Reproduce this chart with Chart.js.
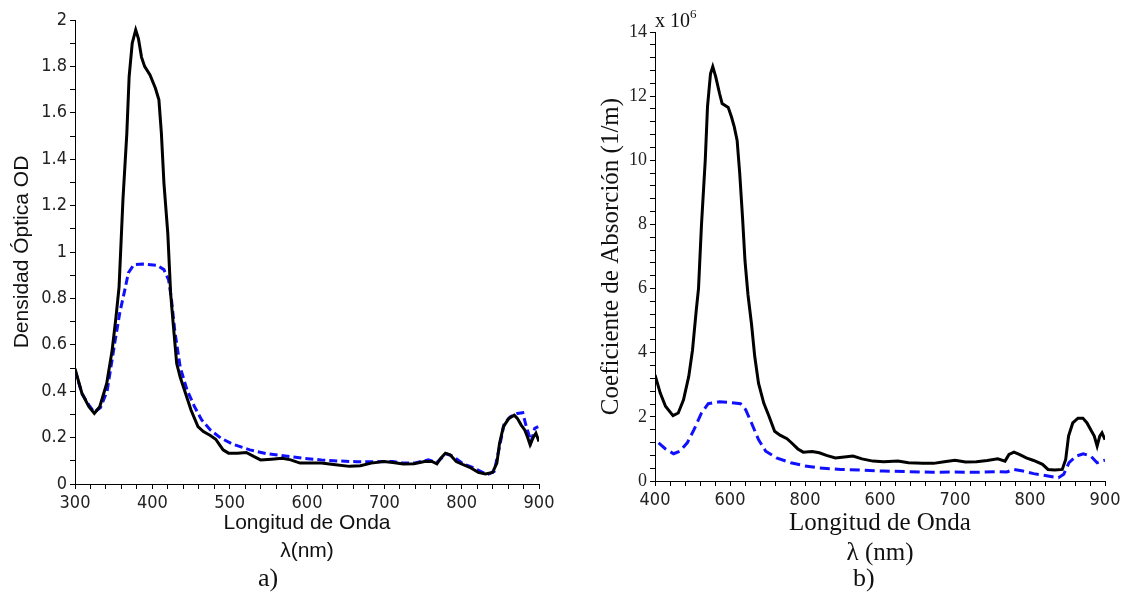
<!DOCTYPE html>
<html>
<head>
<meta charset="utf-8">
<script src="https://cdn.jsdelivr.net/npm/chart.js@4.4.1/dist/chart.umd.min.js"></script>
<style>
  body { margin: 0; background: #fff; }
  #wrap { position: relative; width: 1129px; height: 594px; overflow: hidden; }
  canvas { position: absolute; top: 0; }
  .lbl { position: absolute; font-family: 'Liberation Serif', serif; color: #111; line-height: 1; }
</style>
</head>
<body>
<div id="wrap">
  <canvas id="odChart" width="560" height="594" style="left:0"></canvas>
  <canvas id="absChart" width="564" height="594" style="left:565px"></canvas>
  <div class="lbl" style="left:258px; top:565px; font-size:26px;">a)</div>
  <div class="lbl" style="left:853px; top:565px; font-size:26px;">b)</div>
  <div class="lbl" style="left:655px; top:10px; font-size:20px;">x 10<span style="font-size:13px; position:relative; top:-9px;">6</span></div>
</div>
<script>
// panel a) optical density
const odBlackX = [300, 309, 318, 325, 332, 341, 348, 353, 357, 362, 367, 370, 374, 378.5, 382, 386, 390, 397, 404, 408.5, 411.7, 415, 420, 423.7, 427, 431.5, 436, 443, 450, 459, 466, 475, 482, 487, 491.5, 498.5, 510, 521.5, 531, 540, 554, 568, 579, 591, 604.6, 618.5, 637, 655, 669, 683, 699, 711, 724.6, 738.5, 752, 761.5, 768, 773, 779, 785, 793, 802, 812, 821.5, 830.7, 840, 845.5, 849, 854, 861, 868, 872, 877, 881.5, 885, 888.5, 893, 896, 900];
const odBlackY = [0.497, 0.39, 0.333, 0.304, 0.333, 0.433, 0.576, 0.719, 0.85, 1.225, 1.51, 1.756, 1.9, 1.957, 1.92, 1.84, 1.8, 1.763, 1.706, 1.656, 1.512, 1.297, 1.08, 0.82, 0.69, 0.519, 0.461, 0.39, 0.319, 0.247, 0.226, 0.209, 0.193, 0.169, 0.147, 0.133, 0.133, 0.136, 0.119, 0.104, 0.107, 0.111, 0.104, 0.09, 0.09, 0.09, 0.083, 0.076, 0.079, 0.09, 0.097, 0.093, 0.086, 0.087, 0.097, 0.097, 0.087, 0.111, 0.133, 0.126, 0.097, 0.083, 0.069, 0.05, 0.043, 0.05, 0.09, 0.176, 0.247, 0.283, 0.297, 0.283, 0.254, 0.233, 0.204, 0.169, 0.204, 0.219, 0.183];
const odBlueX = [300, 309, 318, 325, 333, 341.5, 351, 358, 364, 369, 376, 387.7, 406, 415, 421, 424.6, 429, 436, 445, 454.6, 463.8, 475, 489, 503, 526, 549, 572, 595, 618.5, 641.5, 664.6, 687.7, 711, 724.6, 738.5, 757, 768, 780, 789, 802, 816, 833, 842, 849, 855, 863, 872, 879, 883.6, 889.8, 894.5, 899];
const odBlueY = [0.49, 0.39, 0.34, 0.31, 0.33, 0.4, 0.6, 0.74, 0.83, 0.91, 0.945, 0.948, 0.943, 0.924, 0.88, 0.8, 0.661, 0.504, 0.404, 0.333, 0.276, 0.233, 0.197, 0.173, 0.147, 0.13, 0.121, 0.111, 0.104, 0.099, 0.096, 0.096, 0.097, 0.09, 0.09, 0.104, 0.093, 0.13, 0.119, 0.087, 0.069, 0.04, 0.054, 0.161, 0.261, 0.29, 0.304, 0.307, 0.247, 0.183, 0.24, 0.247];

// panel b) absorption coefficient (x 10^6 1/m), x positions on the 300..900 grid
const absBlackX = [300, 307, 314, 324, 331, 338, 345, 350, 355, 358, 362, 367, 370, 374, 377, 381, 386, 389.5, 397.6, 402, 405.7, 409.5, 413, 416.7, 420, 424, 428.6, 433, 438, 445, 452, 459.5, 466.7, 476, 483, 490.5, 497.6, 509.5, 519, 528.6, 540.5, 552.4, 564, 576, 590.5, 604.8, 623.8, 638, 657, 671.4, 685.7, 700, 714, 728.6, 743, 757, 766.7, 772, 778.6, 785.7, 795, 804.8, 816.7, 824, 833, 843, 847.6, 851.4, 857, 864, 870.5, 876, 881, 885.7, 889.5, 893, 896, 900];
const absBlackY = [3.31, 2.74, 2.33, 2.04, 2.12, 2.53, 3.26, 4.08, 5.32, 6.0, 8.0, 10.0, 11.67, 12.7, 12.92, 12.6, 12.09, 11.77, 11.65, 11.35, 11.04, 10.62, 9.58, 8.22, 6.86, 5.8, 4.91, 3.88, 3.05, 2.43, 2.02, 1.55, 1.43, 1.32, 1.17, 1.0, 0.9, 0.92, 0.88, 0.8, 0.72, 0.75, 0.78, 0.69, 0.62, 0.6, 0.62, 0.57, 0.55, 0.55, 0.6, 0.65, 0.59, 0.6, 0.64, 0.69, 0.62, 0.83, 0.9, 0.83, 0.72, 0.64, 0.52, 0.36, 0.34, 0.36, 0.67, 1.4, 1.81, 1.96, 1.96, 1.81, 1.6, 1.4, 1.09, 1.4, 1.5, 1.29];
const absBlueX = [304.8, 314, 324.8, 333, 343, 352, 362, 371, 385.7, 400, 414, 421, 428.6, 438, 447.6, 462, 481, 500, 519, 547.6, 576, 604.8, 638, 671, 700, 728.6, 757, 769, 778.6, 790.5, 804.8, 824, 838, 845, 852, 862, 871, 881, 889.5, 895, 900];
const absBlueY = [1.19, 1.0, 0.85, 0.93, 1.19, 1.6, 2.12, 2.41, 2.47, 2.45, 2.41, 2.22, 1.81, 1.29, 0.93, 0.72, 0.57, 0.47, 0.41, 0.36, 0.34, 0.31, 0.29, 0.27, 0.28, 0.27, 0.29, 0.28, 0.36, 0.31, 0.23, 0.155, 0.1, 0.21, 0.57, 0.78, 0.85, 0.78, 0.57, 0.62, 0.65];
const absTickLabels = ['400', '600', '800', '600', '700', '800', '900'];

function pts(xs, ys) {
  return xs.map((x, i) => ({ x: x, y: ys[i] }));
}

function makeTicks(min, max, step) {
  const t = [];
  const n = Math.round((max - min) / step);
  for (let i = 0; i <= n; i++) t.push({ value: +(min + i * step).toFixed(6) });
  return t;
}

const sans = 'Liberation Sans';
const tickSans = 'DejaVu Sans Condensed';
const serif = 'Liberation Serif';

function baseAxis() {
  return {
    border: { display: true, color: '#000', width: 1 },
    grid: { drawOnChartArea: false, drawTicks: true, tickLength: 5, color: '#000', tickColor: '#000' },
  };
}

// left chart
const odX = Object.assign(baseAxis(), {
  type: 'linear', min: 300, max: 900,
  afterBuildTicks: s => { s.ticks = makeTicks(300, 900, 20); },
  afterFit: s => { s.height = 110; },
  ticks: {
    autoSkip: false, maxRotation: 0, padding: 4, color: '#222',
    font: { family: tickSans, size: 18 },
    callback: v => (v % 100 === 0 ? String(v) : '')
  },
  title: {
    display: true, text: ['Longitud de Onda', 'λ(nm)'], color: '#111',
    font: { family: sans, size: 21, lineHeight: 1.33 },
    padding: { top: 0, bottom: 29 }
  }
});
const odY = Object.assign(baseAxis(), {
  type: 'linear', min: 0, max: 2,
  afterBuildTicks: s => { s.ticks = makeTicks(0, 2, 0.1); },
  afterFit: s => { s.width = 75; },
  ticks: {
    autoSkip: false, padding: 3, color: '#222',
    font: { family: tickSans, size: 18 },
    callback: v => (Math.abs(v * 5 - Math.round(v * 5)) < 1e-6 ? String(Math.round(v * 10) / 10) : '')
  },
  title: {
    display: true, text: 'Densidad Óptica OD', color: '#111',
    font: { family: sans, size: 21, lineHeight: 1.2 },
    padding: { top: 10, bottom: 0 }
  }
});

new Chart(document.getElementById('odChart'), {
  type: 'line',
  data: {
    datasets: [
      { data: pts(odBlackX, odBlackY), borderColor: '#000', borderWidth: 3, pointRadius: 0, fill: false },
      { data: pts(odBlueX, odBlueY), borderColor: '#1010ff', borderWidth: 3, borderDash: [8, 4], pointRadius: 0, fill: false }
    ]
  },
  options: {
    responsive: false, animation: false, devicePixelRatio: 1,
    layout: { padding: { left: 0, top: 20, right: 21, bottom: 0 } },
    plugins: { legend: { display: false }, tooltip: { enabled: false } },
    scales: { x: odX, y: odY }
  }
});

// right chart
const absX = Object.assign(baseAxis(), {
  type: 'linear', min: 300, max: 900,
  afterBuildTicks: s => { s.ticks = makeTicks(300, 900, 20); },
  afterFit: s => { s.height = 113; },
  ticks: {
    autoSkip: false, maxRotation: 0, padding: 4, color: '#222',
    font: { family: tickSans, size: 18 },
    callback: v => ((v - 300) % 100 === 0 ? absTickLabels[(v - 300) / 100] : '')
  },
  title: {
    display: true, text: ['Longitud de Onda', 'λ (nm)'], color: '#111',
    font: { family: serif, size: 25, lineHeight: 1.2 },
    padding: { top: 0, bottom: 26 }
  }
});
const absY = Object.assign(baseAxis(), {
  type: 'linear', min: 0, max: 14,
  afterBuildTicks: s => { s.ticks = makeTicks(0, 14, 0.4); },
  afterFit: s => { s.width = 90; },
  ticks: {
    autoSkip: false, padding: 3, color: '#222',
    font: { family: serif, size: 18 },
    callback: v => (Math.abs(v / 2 - Math.round(v / 2)) < 1e-6 ? String(Math.round(v)) : '')
  },
  title: {
    display: true, text: 'Coeficiente de Absorción (1/m)', color: '#111',
    font: { family: serif, size: 25, lineHeight: 1.2 },
    padding: { top: 31, bottom: 0 }
  }
});

new Chart(document.getElementById('absChart'), {
  type: 'line',
  data: {
    datasets: [
      { data: pts(absBlackX, absBlackY), borderColor: '#000', borderWidth: 3, pointRadius: 0, fill: false },
      { data: pts(absBlueX, absBlueY), borderColor: '#1010ff', borderWidth: 3, borderDash: [10, 5], pointRadius: 0, fill: false }
    ]
  },
  options: {
    responsive: false, animation: false, devicePixelRatio: 1,
    layout: { padding: { left: 0, top: 32, right: 24, bottom: 0 } },
    plugins: { legend: { display: false }, tooltip: { enabled: false } },
    scales: { x: absX, y: absY }
  }
});
</script>
</body>
</html>
